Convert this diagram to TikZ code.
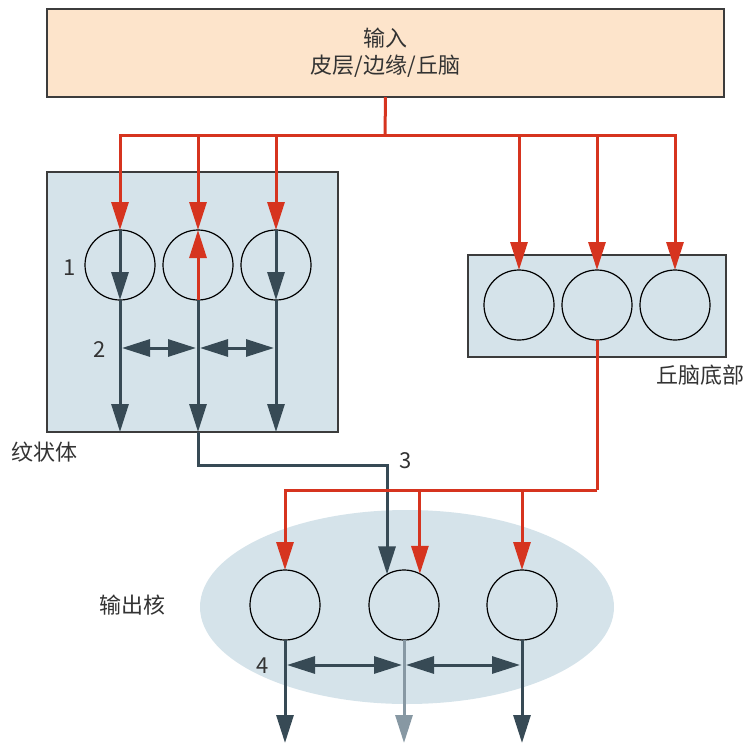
\documentclass[tikz,border=0pt]{standalone}
\usepackage{fontspec}
\setmainfont{Noto Sans CJK SC}
\usetikzlibrary{arrows.meta, shapes.geometric, positioning}
\definecolor{peach}{HTML}{FDE4CB}
\definecolor{boxfill}{HTML}{D5E3EA}
\definecolor{boxline}{HTML}{3C3C3C}
\definecolor{exred}{HTML}{D6341F}
\definecolor{slate}{HTML}{374A55}
\definecolor{pale}{HTML}{8798A3}
\definecolor{txt}{HTML}{333333}

\begin{document}
\begin{tikzpicture}[x=0.5pt, y=-0.5pt]
                    \tikzstyle{cell} = [
	shape=circle,
	draw=black, %thin outline of the cell
	line width=0.6pt,
	minimum size=35pt, %diameter of the cell
	inner sep=0pt,
	outer sep=0pt
];
\tikzstyle{region} = [
	shape=rectangle,
	draw=boxline,
	fill=boxfill,
	line width=0.8pt,
	inner sep=0pt,
	outer sep=0pt
];
\tikzstyle{lbl} = [text=txt, font=\fontsize{11}{13.5}\selectfont, inner sep=0pt];
\tikzstyle{tip} = [-{Triangle[length=14pt,width=8.5pt]}];
\tikzstyle{tips} = [{Triangle[length=14pt,width=8.5pt]}-{Triangle[length=14pt,width=8.5pt]}];

\useasboundingbox (0,0) rectangle (745,744);

%regions
\node[region, fill=peach, minimum width=338.5pt, minimum height=44pt, lbl, align=center] (input) at (385.5,53) {输入\\皮层/边缘/丘脑};
\node[region, minimum width=145.5pt, minimum height=130pt] (str) at (192.5,302) {};
\node[region, minimum width=129pt, minimum height=51pt] (stn) at (597,306) {};
\node[shape=ellipse, fill=boxfill, minimum width=207pt, minimum height=97pt, inner sep=0pt] (out) at (407,607) {};

\begin{scope}
	\node[cell](s1) at (120,265) {};
	\node[cell](s2) at (198,265) {};
	\node[cell](s3) at (276,265) {};
\end{scope}

\begin{scope}
	\node[cell](t1) at (519,305) {};
	\node[cell](t2) at (597,305) {};
	\node[cell](t3) at (675,305) {};
\end{scope}

\begin{scope}
	\node[cell](g1) at (285,605) {};
	\node[cell](g2) at (404,605) {};
	\node[cell](g3) at (522,605) {};
\end{scope}

\coordinate (rj) at (385,135);
\coordinate (rb) at (597,490);
\coordinate (k3) at (198,465);
\coordinate (h1) at (120,348);
\coordinate (h2) at (198,348);
\coordinate (h3) at (276,348);
\coordinate (q1) at (285,665);
\coordinate (q2) at (404,665);
\coordinate (q3) at (522,665);
\coordinate (e1) at (285,743);
\coordinate (e2) at (404,743);
\coordinate (e3) at (522,743);

%labels
\node[lbl] (n1) at (70,268) {1};
\node[lbl] (n2) at (100,350) {2};
\node[lbl] (n3) at (406,461) {3};
\node[lbl] (n4) at (263,666) {4};
\node[lbl, anchor=west] (strname) at (11,452) {纹状体};
\node[lbl, anchor=east] (stnname) at (745,375) {丘脑底部};
\node[lbl] (outname) at (132,605) {输出核};

%striatum outputs
\draw[line width=1.5pt, color=slate]
	(s1.north) edge[tip] (s1.south)
	(s3.north) edge[tip] (s3.south)
	(s1.south) edge[tip] (s1 |- str.south)
	(s2.south) edge[tip] (s2 |- str.south)
	(s3.south) edge[tip] (s3 |- str.south)
;
\draw[tip, line width=1.5pt, color=slate]
	(s2 |- str.south) -- (k3) -| (g2.119);

%lateral links
\draw[line width=1.5pt, color=slate]
	([xshift=1pt]h1) edge[tips] ([xshift=-1pt]h2)
	([xshift=1pt]h2) edge[tips] ([xshift=-1pt]h3)
	([xshift=1pt]q1) edge[tips] ([xshift=-1pt]q2)
	([xshift=1pt]q2) edge[tips] ([xshift=-1pt]q3)
;

%excitatory input
\draw[line width=1.5pt, color=exred] (input.south) -- (rj);
\draw[tip, line width=1.5pt, color=exred] (rj) -| (s1.north);
\draw[tip, line width=1.5pt, color=exred] (rj) -| (s2.north);
\draw[tip, line width=1.5pt, color=exred] (rj) -| (s3.north);
\draw[tip, line width=1.5pt, color=exred] (rj) -| (t1.north);
\draw[tip, line width=1.5pt, color=exred] (rj) -| (t2.north);
\draw[tip, line width=1.5pt, color=exred] (rj) -| (t3.north);
\draw[tip, line width=1.5pt, color=exred] (s2.south) -- (s2.north);

%subthalamic drive
\draw[line width=1.5pt, color=exred] (t2.south) -- (rb);
\draw[tip, line width=1.5pt, color=exred] (rb) -| (g1.north);
\draw[tip, line width=1.5pt, color=exred] (rb) -| (g2.63);
\draw[tip, line width=1.5pt, color=exred] (rb) -| (g3.north);

%output
\draw[line width=1.5pt, color=slate]
	(g1.south) edge[tip] (e1)
	(g3.south) edge[tip] (e3)
;
\draw[tip, line width=1.5pt, color=pale] (g2.south) -- (e2);

                \end{tikzpicture}
\end{document}
